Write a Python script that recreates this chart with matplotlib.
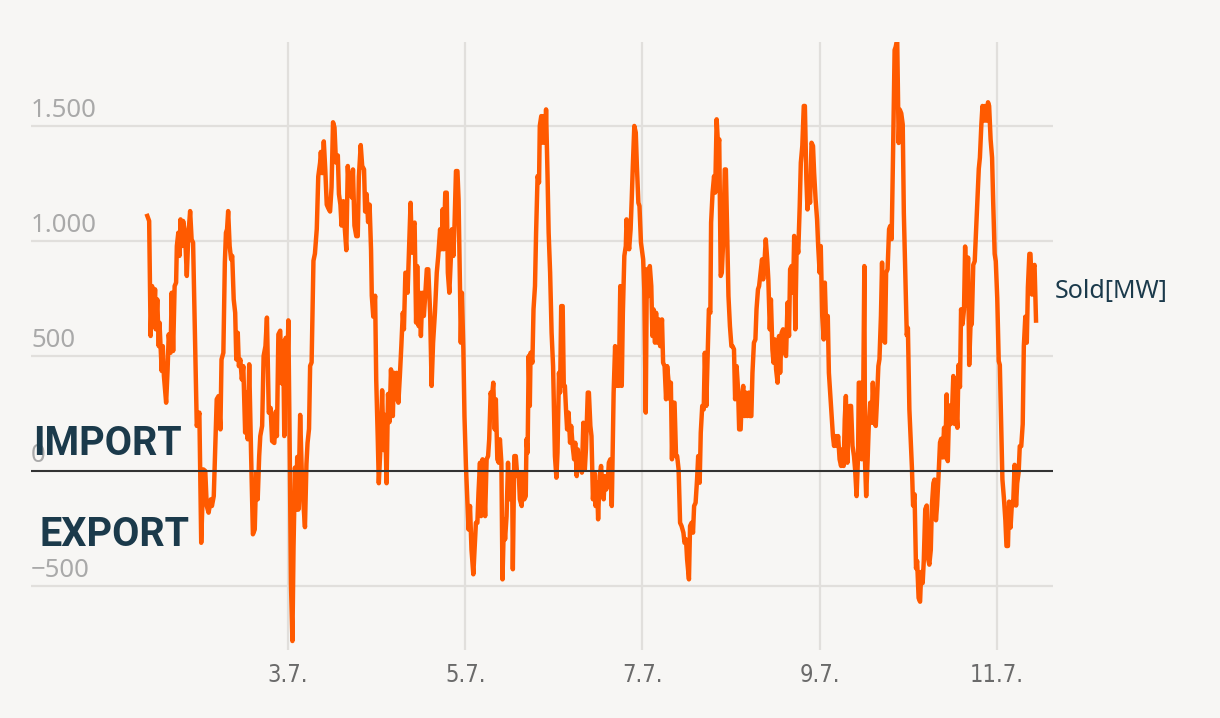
import matplotlib
matplotlib.use("Agg")
import matplotlib.pyplot as plt
from matplotlib.transforms import offset_copy

# ---------------- data (hours since 1 July 00:00, sold MW) ----------------
jul01_02 = [(9.9,1109),(10.4,1087),(10.8,587),(11.2,804),(11.6,630),(12.0,790),(12.2,616),(12.6,746),
            (13.0,543),(13.2,645),(13.5,543),(13.8,435),(14.1,543),(14.4,413),(15.0,297),(15.4,442),
            (15.7,594),(16.2,514),(16.5,775),(16.9,522),(17.3,804),(17.7,819),(17.9,978),(18.3,1036),
            (18.6,935),(18.9,1094),(19.3,978),(19.6,1087),(20.1,1036),(20.6,848),(21.0,1022),(21.5,1130),
            (21.9,1007),(22.3,993),(23.3,196),(24.0,254),(24.5,-312),(25.1,7),(25.6,0),(26.0,-152),
            (26.5,-181),(27.1,-123),(27.4,-152),(27.9,-109),(28.2,51),(28.7,312),(29.2,326),(29.7,181),
            (30.0,485),(30.5,514),(30.9,906),(31.2,1036),(31.5,1051),(31.8,1130),(32.2,978),(32.6,920),
            (32.9,935),(33.3,746),(33.7,688),(34.0,485),(34.4,601),(34.7,456),(35.1,485),(35.5,398),
            (35.9,456),(36.4,167),(36.7,340),(37.1,138),(37.5,464),(38.0,80),(38.5,-275),(39.0,-254),
            (39.4,-7),(39.8,-123),(40.2,65),(40.5,152),(41.0,196),(41.4,500),(41.9,543),(42.3,667),
            (42.8,254)]
jul02_04 = [(43.3,274),(43.7,130),(44.3,122),(44.7,259),(45.0,152),(45.4,594),(45.9,610),(46.3,381),
            (46.7,564),(47.0,152),(47.4,579),(47.7,335),(48.1,655),(48.5,46),(48.8,-488),(49.2,-739),
            (49.5,-335),(49.9,15),(50.2,-168),(50.5,61),(50.8,-168),(51.3,244),(51.7,15),(52.1,-122),
            (52.6,-244),(53.0,30),(53.3,122),(53.7,183),(54.0,457),(54.4,472),(54.9,914),(55.3,945),
            (55.8,1052),(56.2,1280),(56.7,1341),(56.9,1387),(57.3,1295),(57.7,1433),(58.1,1311),(58.5,1158),
            (58.9,1143),(59.4,1128),(59.8,1234),(60.2,1516),(60.6,1493),(61.0,1341),(61.5,1372),(61.8,1204),
            (62.2,1158),(62.5,1067),(63.0,1173),(63.4,1052),(63.8,960),(64.2,1326),(64.5,1234),(64.9,1295),
            (65.3,1189),(65.6,1311),(66.0,1067),(66.5,1021),(66.9,1021),(67.2,1280),(67.7,1417),(68.1,1326),
            (68.6,1311),(68.9,1128),(69.3,1204),(69.7,1082),(70.1,1158),(70.5,960),(70.7,762),(71.1,671),
            (71.6,762),(71.9,396),(72.3,152),(72.6,-53),(73.1,122),(73.5,351),(73.9,91),(74.3,244),
            (74.7,-53),(75.1,335),(75.5,213)]
jul04_05 = [(75.9,442),(76.4,239),(76.7,427),(77.1,312),(77.4,427),(77.9,297),(78.3,413),(78.7,543),
            (79.1,688),(79.4,616),(79.8,862),(80.1,862),(80.4,775),(80.8,978),(81.2,1166),(81.6,949),
            (81.9,1065),(82.3,1080),(82.7,645),(83.0,891),(83.4,630),(83.7,775),(84.0,587),(84.4,775),
            (84.8,674),(85.1,746),(85.6,877),(86.0,877),(86.5,688),(86.9,370),(87.3,558),(87.8,688),
            (88.3,862),(88.7,935),(89.2,1051),(89.6,964),(89.9,1138),(90.2,964),(90.6,1210),(91.0,1210),
            (91.3,862),(91.7,775),(92.1,920),(92.4,1051),(92.8,935),(93.1,1065),(93.5,1304),(93.9,1304),
            (94.2,1181),(94.6,790),(94.8,558),(95.1,775),(95.5,529),(95.8,239),(96.2,22),(96.6,-138),
            (96.9,-254),(97.3,-152),(97.7,-341),(98.2,-449),(98.6,-326),(98.9,-225),(99.3,-225),(99.6,-94),
            (100.0,36),(100.3,-196),(100.7,51),(101.1,-65),(101.4,-196),(101.8,51),(102.2,65),(102.5,138),
            (102.9,341),(103.2,312),(103.6,384),(104.0,181),(104.3,312),(104.7,51),(105.1,36),(105.4,138),
            (105.8,36),(106.1,-471),(106.5,-210),(106.8,-297),(107.2,-196),(107.6,36),(107.9,-123),(108.3,-22),
            (108.7,-7),(108.9,-427),(109.3,65),(109.7,65),(110.1,-22),(110.5,-7)]
jul05_07 = [(110.8,-123),(111.3,-152),(111.6,-7),(112.0,-123),(112.4,-109),(112.6,138),(112.9,80),(113.2,500),
            (113.5,283),(113.7,514),(114.2,471),(114.5,703),(114.9,804),(115.2,1036),(115.6,1282),(116.0,1254),
            (116.2,1500),(116.6,1543),(117.0,1427),(117.3,1543),(117.7,1427),(117.9,1572),(118.3,1282),(118.6,1036),
            (119.0,862),(119.4,601),(119.8,456),(120.3,65),(120.7,-29),(121.0,80),(121.4,427),(121.7,341),
            (122.0,717),(122.4,717),(122.7,370),(123.0,370),(123.3,268),(123.6,181),(124.0,254),(124.4,123),
            (124.7,196),(125.1,109),(125.5,51),(125.8,123),(126.2,-22),(126.5,94),(126.9,7),(127.3,65),
            (127.6,-7),(128.0,210),(128.4,7),(128.7,94),(129.2,341),(129.5,341),(129.9,196),(130.2,152),
            (130.6,-123),(131.0,-7),(131.3,-152),(131.7,-51),(132.0,-210),(132.4,-22),(132.8,22),(133.1,-51),
            (133.5,-123),(133.8,-22),(134.2,-80),(134.6,-51),(134.9,36),(135.3,51),(135.7,-152),(135.9,51),
            (136.2,341),(136.6,543),(136.9,370),(137.3,486),(137.6,370),(138.0,804),(138.4,370),(138.7,688),
            (139.1,935),(139.5,978),(139.7,1094),(140.1,1007),(140.4,964),(140.8,1051),(141.1,1181),(141.4,1326),
            (141.8,1500),(142.2,1471),(142.5,1326),(142.9,1166),(143.2,1152),(143.6,993)]
jul07_08 = [(144.2,920),(144.5,790),(144.9,254),(145.2,877),(145.6,761),(146.0,891),(146.4,804),(146.7,587),
            (147.0,703),(147.4,558),(147.7,688),(148.1,558),(148.5,659),(148.8,543),(149.3,659),(149.6,471),
            (150.0,456),(150.4,312),(150.7,456),(151.1,384),(151.5,312),(151.7,384),(152.0,51),(152.3,297),
            (152.7,297),(153.1,65),(153.4,65),(153.8,7),(154.2,-225),(154.6,-239),(155.1,-268),(155.4,-312),
            (155.8,-297),(156.1,-384),(156.6,-471),(156.9,-239),(157.3,-225),(157.7,-268),(158.0,-152),(158.4,-138),
            (158.8,-36),(159.1,65),(159.5,-51),(159.8,167),(160.2,283),(160.6,268),(160.9,514),(161.3,283),
            (161.7,529),(162.0,703),(162.4,688),(162.6,1080),(163.0,1210),(163.4,1282),(163.7,1210),(164.1,1529),
            (164.5,1413),(164.8,1442),(165.2,848),(165.5,862),(165.9,1007),(166.3,1311),(166.6,1311),(167.0,1007),
            (167.3,761),(167.7,630),(168.1,543),(168.4,543),(168.8,529),(169.1,312),(169.5,456),(169.9,355),
            (170.2,181),(170.6,181),(170.9,312),(171.3,370),(171.7,239),(172.0,341),(172.4,239),(172.8,341),
            (173.1,239),(173.5,239),(173.8,427),(174.2,558),(174.6,572),(174.9,703),(175.3,790),(175.6,804),
            (176.0,862),(176.4,920),(176.7,833),(177.1,920),(177.4,1007),(177.8,920),(178.1,833)]
jul08_10 = [(178.5,616),(178.8,746),(179.2,529),(179.5,471),(179.9,572),(180.2,442),(180.6,384),(181.0,587),
            (181.3,427),(181.7,601),(182.1,616),(182.6,514),(182.9,500),(183.3,732),(183.7,587),(184.0,877),
            (184.4,891),(184.8,775),(185.1,1022),(185.4,616),(185.8,1007),(186.2,949),(186.6,1152),(186.9,1340),
            (187.3,1413),(187.7,1587),(188.0,1587),(188.4,1268),(188.7,1137),(189.1,1239),(189.4,1166),(189.8,1427),
            (190.2,1413),(190.5,1297),(190.9,1181),(191.3,1094),(191.6,978),(192.0,862),(192.3,978),(192.7,674),
            (193.1,572),(193.4,819),(193.8,601),(194.2,674),(194.5,427),(194.9,326),(195.2,254),(195.6,152),
            (195.9,109),(196.3,152),(196.7,109),(197.0,152),(197.4,51),(197.8,22),(198.1,94),(198.5,22),
            (198.8,225),(199.1,326),(199.5,36),(199.8,210),(200.2,283),(200.5,283),(200.9,109),(201.3,65),
            (201.6,7),(202.0,-109),(202.4,65),(202.6,384),(203.0,384),(203.4,51),(203.7,138),(204.1,891),
            (204.3,36),(204.6,-109),(205.0,51),(205.3,196),(205.7,297),(206.1,210),(206.4,384),(206.8,210),
            (207.2,196),(207.5,297),(207.9,456),(208.2,486),(208.6,674),(208.9,906),(209.3,572),(209.7,558),
            (210.0,862),(210.4,877),(210.8,1051),(211.1,1065),(211.5,1008),(211.9,1400),(212.3,1830),(212.6,1844),
            (213.0,1877)]
jul10_11 = [(213.4,1426),(213.7,1571),(214.1,1555),(214.5,1507),(214.8,1121),(215.2,847),(215.6,590),(215.9,622),
            (216.3,268),(216.6,156),(217.0,11),(217.3,-150),(217.7,-101),(218.1,-423),(218.4,-391),(218.8,-552),
            (219.2,-568),(219.5,-439),(219.9,-487),(220.2,-391),(220.6,-166),(221.0,-150),(221.3,-375),(221.7,-407),
            (222.1,-343),(222.4,-150),(222.8,-53),(223.1,-37),(223.5,-214),(223.8,-150),(224.2,-21),(224.6,124),
            (224.9,140),(225.3,59),(225.7,188),(226.0,59),(226.4,333),(226.7,43),(227.1,285),(227.5,204),
            (227.8,236),(228.2,413),(228.6,204),(228.9,285),(229.3,188),(229.6,461),(230.0,365),(230.3,703),
            (230.7,638),(231.1,703),(231.4,976),(231.8,719),(232.2,928),(232.5,461),(232.9,654),(233.2,638),
            (233.6,896),(234.0,912),(234.3,1024),(234.7,1169),(235.1,1314),(235.4,1362),(235.8,1507),(236.1,1587),
            (236.5,1523),(236.8,1587),(237.2,1523),(237.6,1603),(237.9,1587),(238.3,1442),(238.7,1362),(239.0,1169),
            (239.4,944),(239.7,912),(240.1,751),(240.5,478),(240.8,461),(241.2,188),(241.5,-37),(241.9,-117),
            (242.3,-214),(242.6,-326),(243.0,-326),(243.3,-133),(243.7,-246),(244.1,-133),(244.4,-150),(244.8,27),
            (245.2,-150),(245.5,-53),(245.9,-5),(246.2,108),(246.6,108),(247.0,204),(247.3,542),(247.7,671),
            (248.1,558),(248.4,799),(248.8,944),(249.1,944),(249.5,767),(249.8,880),(250.2,896),(250.6,654)]

tick_hours = [48, 96, 144, 192, 240]
tick_labels = ["3.7.", "5.7.", "7.7.", "9.7.", "11.7."]
y_ticks = [-500, 0, 500, 1000, 1500]
y_labels = ["\u2212500", "0", "500", "1.000", "1.500"]
series_name = "Sold[MW]"

# ---------------- styling ----------------
BG = "#f7f6f4"
ORANGE = "#ff5a00"
NAVY = "#1b3a4b"
GRID = "#e1dfdc"

segments = [jul01_02, jul02_04, jul04_05, jul05_07, jul07_08, jul08_10, jul10_11]
hours = [p[0] for seg in segments for p in seg]
sold = [p[1] for seg in segments for p in seg]

W, H = 1220, 718
fig = plt.figure(figsize=(W / 100, H / 100), dpi=100, facecolor=BG)
ax = fig.add_axes([31 / W, (H - 650) / H, (1053 - 31) / W, (650 - 42) / H])
ax.set_facecolor(BG)
ax.set_xlim(-21.6, 255.2)
ax.set_ylim(-778, 1865)
for s in ax.spines.values():
    s.set_visible(False)

# grid
for t in tick_hours:
    ax.axvline(t, color=GRID, lw=1.6, zorder=0)
for v in y_ticks:
    if v == 0:
        ax.axhline(v, color="#333333", lw=1.5, zorder=3)
    else:
        ax.axhline(v, color=GRID, lw=1.6, zorder=0)

ax.plot(hours, sold, color=ORANGE, lw=3.2, solid_joinstyle="round", zorder=2)

# x ticks
ax.set_xticks(tick_hours)
ax.set_xticklabels(tick_labels, fontsize=17, color="#6a6a6a", fontfamily="DejaVu Sans",
                   fontstretch="condensed")
ax.tick_params(axis="x", length=0, pad=9)
ax.set_yticks([])

# y labels above the gridlines
ytrans = offset_copy(ax.get_yaxis_transform(), fig=fig, x=0, y=9, units="dots")
for v, lab in zip(y_ticks, y_labels):
    ax.text(0.0, v, lab, transform=ytrans, ha="left", va="baseline",
            fontsize=18.5, color="#a9a9a9", fontfamily="Noto Sans", zorder=1)

# IMPORT / EXPORT
fig.text(33 / W, (H - 455) / H, "IMPORT", ha="left", va="baseline", fontsize=28.5,
         fontweight="bold", color=NAVY, fontfamily="Roboto")
fig.text(40 / W, (H - 546) / H, "EXPORT", ha="left", va="baseline", fontsize=28.5,
         fontweight="bold", color=NAVY, fontfamily="Roboto")

# series label
fig.text(1055 / W, (H - 291) / H, series_name, ha="left", va="center", fontsize=18,
         color=NAVY, fontfamily="Noto Sans")

fig.savefig("out.png", dpi=100, facecolor=BG)
